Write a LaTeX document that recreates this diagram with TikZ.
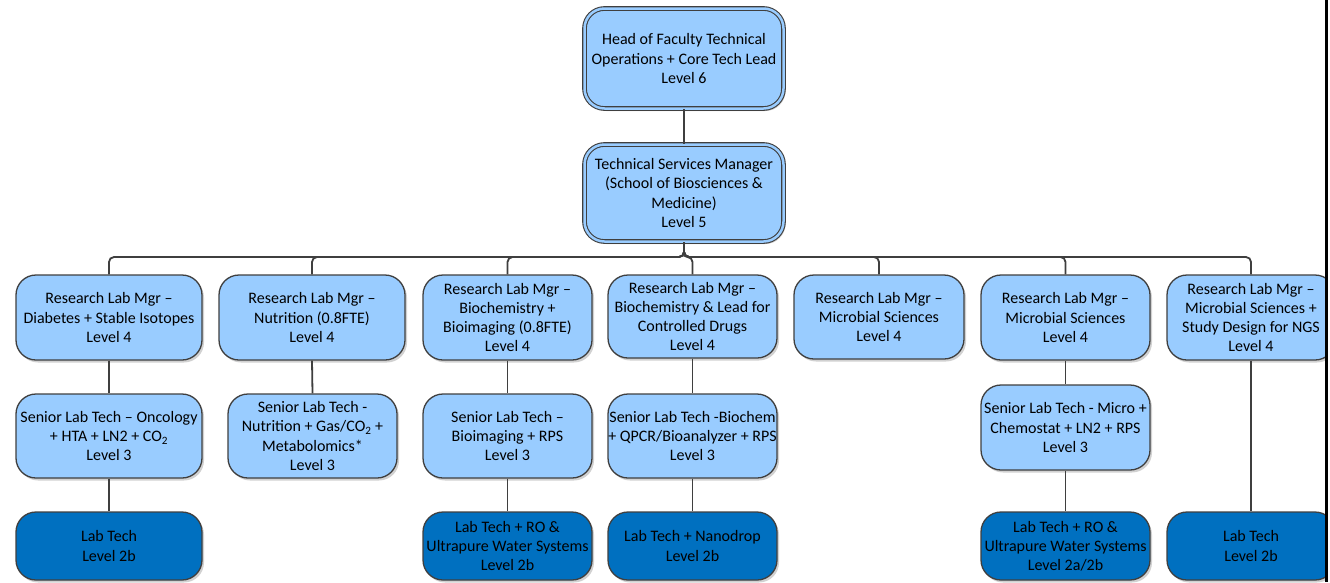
\documentclass[tikz,border=0pt]{standalone}
\usepackage{fontspec}
\setmainfont{Carlito}
\usetikzlibrary{shadows}
\definecolor{lightb}{HTML}{99CCFF}
\definecolor{darkb}{HTML}{0070C0}
\definecolor{edge}{HTML}{3F3F3F}
\tikzset{
  x=1pt, y=-1pt,
  box/.style={rectangle, rounded corners=20pt, draw=edge, line width=1.3pt,
    fill=lightb, align=center, inner sep=0pt,
    font=\fontsize{16}{19.2}\selectfont, text=black,
    drop shadow={shadow xshift=2pt, shadow yshift=-2.5pt, opacity=0.18, fill=black}},
  dbox/.style={box, fill=darkb},
  topbox/.style={box, double=lightb, double distance=2.5pt, line width=1.1pt},
  conn/.style={draw=edge, line width=1.8pt, rounded corners=5pt},
}
\begin{document}
\begin{tikzpicture}
\useasboundingbox (0,0) rectangle (1330,582);
\fill[white] (0,0) rectangle (1330,582);
\begin{scope}
\clip (0,0) rectangle (1326,582);
% top levels
\node[topbox, minimum width=199pt, minimum height=100pt] (l6) at (684,58.5)
  {Head of Faculty Technical\\Operations + Core Tech Lead\\Level 6};
\node[topbox, minimum width=199pt, minimum height=97pt] (l5) at (684,193)
  {Technical Services Manager\\(School of Biosciences \&\\Medicine)\\Level 5};
% level 4
\node[box, minimum width=186pt, minimum height=85pt] (a4) at (109,317.5)
  {Research Lab Mgr –\\Diabetes + Stable Isotopes\\Level 4};
\node[box, minimum width=186pt, minimum height=85pt] (b4) at (312,317.5)
  {Research Lab Mgr –\\Nutrition (0.8FTE)\\Level 4};
\node[box, minimum width=169pt, minimum height=85pt] (c4) at (507.5,317.5)
  {Research Lab Mgr –\\Biochemistry +\\Bioimaging (0.8FTE)\\Level 4};
\node[box, minimum width=169pt, minimum height=83pt] (d4) at (692.5,316.5)
  {Research Lab Mgr –\\Biochemistry \& Lead for\\Controlled Drugs\\Level 4};
\node[box, minimum width=170pt, minimum height=84pt] (e4) at (879,317)
  {Research Lab Mgr –\\Microbial Sciences\\Level 4};
\node[box, minimum width=169pt, minimum height=85pt] (f4) at (1065.5,317.5)
  {Research Lab Mgr –\\Microbial Sciences\\Level 4};
\node[box, minimum width=168pt, minimum height=85pt] (g4) at (1251,317.5)
  {Research Lab Mgr –\\Microbial Sciences +\\Study Design for NGS\\Level 4};
% level 3
\node[box, minimum width=186pt, minimum height=84pt] (a3) at (109,436)
  {Senior Lab Tech – Oncology\\+ HTA + LN2 + CO\textsubscript{2}\\Level 3};
\node[box, minimum width=169pt, minimum height=84pt] (b3) at (312.5,436)
  {Senior Lab Tech -\\Nutrition + Gas/CO\textsubscript{2} +\\Metabolomics*\\Level 3};
\node[box, minimum width=169pt, minimum height=84pt] (c3) at (507.5,436)
  {Senior Lab Tech –\\Bioimaging + RPS\\Level 3};
\node[box, minimum width=169pt, minimum height=84pt] (d3) at (692.5,436)
  {Senior Lab Tech -Biochem\\+ QPCR/Bioanalyzer + RPS\\Level 3};
\node[box, minimum width=169pt, minimum height=85pt] (f3) at (1065.5,427.5)
  {Senior Lab Tech - Micro +\\Chemostat + LN2 + RPS\\Level 3};
% level 2
\node[dbox, minimum width=186pt, minimum height=68pt] (a2) at (109,546)
  {Lab Tech\\Level 2b};
\node[dbox, minimum width=169pt, minimum height=68pt] (c2) at (507.5,546)
  {Lab Tech + RO \&\\Ultrapure Water Systems\\Level 2b};
\node[dbox, minimum width=169pt, minimum height=68pt] (d2) at (692.5,546)
  {Lab Tech + Nanodrop\\Level 2b};
\node[dbox, minimum width=169pt, minimum height=68pt] (f2) at (1065.5,546)
  {Lab Tech + RO \&\\Ultrapure Water Systems\\Level 2a/2b};
\node[dbox, minimum width=168pt, minimum height=68pt] (g2) at (1251,546)
  {Lab Tech\\Level 2b};
% connectors
\draw[conn] (l6.south) -- (l5.north);
\coordinate (bus) at (0,257);
\foreach \c in {a4,b4,c4,d4,e4,f4,g4}{
  \draw[conn] (l5.south) |- (bus -| \c.north) -- (\c.north);
}
\draw[conn] (a4.south) -- (a3.north);
\draw[conn] (a3.south) -- (a2.north);
\draw[conn] (b4.south) -- (b3.north);
\draw[conn] (c4.south) -- (c3.north);
\draw[conn] (c3.south) -- (c2.north);
\draw[conn] (d4.south) -- (d3.north);
\draw[conn] (d3.south) -- (d2.north);
\draw[conn] (f4.south) -- (f3.north);
\draw[conn] (f3.south) -- (f2.north);
\draw[conn] (g4.south) -- (g2.north);
\end{scope}
\coordinate (rt) at (1326,0);
\coordinate (rb) at (1326,582);
\draw[black, line width=3pt] (rt) -- (rb);
\end{tikzpicture}
\end{document}
